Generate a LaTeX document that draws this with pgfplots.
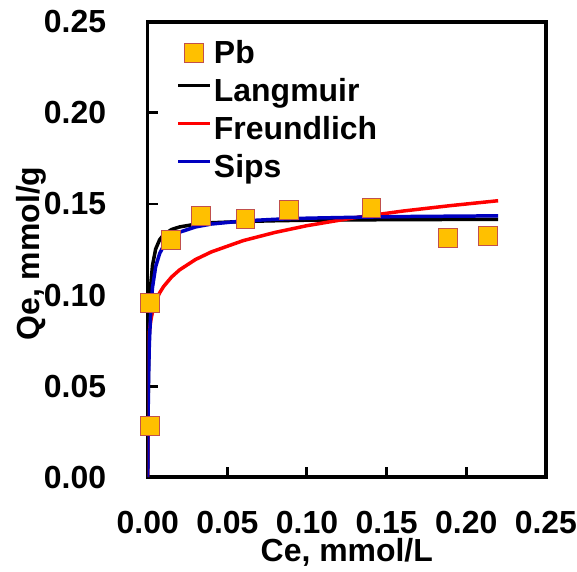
\documentclass[border=0pt]{standalone}
\usepackage{pgfplots}
\pgfplotsset{compat=1.18}
\usepackage{pgfplotstable}
\usepackage{fontspec}
\setmainfont{Liberation Sans}
\newcommand\bigbold{\fontsize{32}{38}\selectfont\bfseries}

\definecolor{pbfill}{HTML}{FFC000}
\definecolor{pbedge}{HTML}{C0504D}
\definecolor{sipsblue}{HTML}{0000C0}

% Measured equilibrium data for Pb
\pgfplotstableread{
Ce      Qe
0.0012  0.0281
0.0012  0.0954
0.0148  0.1300
0.0336  0.1436
0.0614  0.1420
0.0885  0.1469
0.1405  0.1480
0.1884  0.1312
0.2139  0.1325
}\pbdata

% Fitted isotherms, tabulated
\pgfplotstableread{
Ce      Lang    Freu    Sips
0.0000  0.0000  0.0000  0.0000
0.0002  0.0328  0.0655  0.0294
0.0005  0.0609  0.0731  0.0517
0.0010  0.0852  0.0794  0.0725
0.0020  0.1065  0.0863  0.0933
0.0030  0.1162  0.0906  0.1041
0.0050  0.1253  0.0964  0.1156
0.0075  0.1304  0.1012  0.1228
0.0100  0.1331  0.1047  0.1271
0.0150  0.1360  0.1099  0.1318
0.0200  0.1374  0.1138  0.1345
0.0300  0.1389  0.1195  0.1374
0.0400  0.1397  0.1237  0.1390
0.0600  0.1404  0.1299  0.1407
0.0800  0.1408  0.1344  0.1416
0.1000  0.1411  0.1381  0.1422
0.1300  0.1413  0.1425  0.1427
0.1600  0.1414  0.1461  0.1431
0.1900  0.1415  0.1491  0.1433
0.2200  0.1416  0.1518  0.1435
}\fits

\pgfplotsset{
  pblegend/.style={legend image code/.code={%
    \draw[fill=pbfill, draw=pbedge, line width=1pt] (6.5pt,-7pt) rectangle (25.5pt,12pt);}},
  linelegend/.style={legend image code/.code={%
    \draw[#1, line width=3.5pt] (0pt,8pt) -- (32pt,8pt);}},
  tickmark/.style={black, line width=3pt, no marks, forget plot},
}

\begin{document}
\begin{tikzpicture}
\begin{axis}[
  scale only axis,
  width=399pt, height=456pt,
  xmin=0, xmax=0.25, ymin=0, ymax=0.25,
  xtick={0,0.05,...,0.25}, ytick={0,0.05,...,0.25},
  tick pos=left,
  tick style={draw=none},
  axis line style={line width=3.5pt},
  every axis/.append style={line width=3.5pt},
  clip mode=individual,
  /pgf/number format/.cd, fixed, fixed zerofill, precision=2, assume math mode=true,
  /pgfplots/.cd,
  tick label style={font=\bigbold},
  xticklabel style={inner sep=0pt, anchor=north, yshift=-32pt},
  yticklabel style={inner sep=0pt, anchor=east, xshift=-40pt},
  xlabel={Ce, mmol/L},
  ylabel={Qe, mmol/g},
  label style={font=\bigbold, inner sep=0pt},
  xlabel style={at={(axis description cs:0.5,0)}, anchor=center, yshift=-75pt},
  ylabel style={at={(axis description cs:0,0.5)}, anchor=center, yshift=117pt, xshift=-4pt},
  legend style={draw=none, fill=none, font=\bigbold, inner sep=0pt,
    at={(axis description cs:0.068,0.965)}, anchor=north west,
    nodes={inner sep=1pt, text height=23pt, text depth=7pt},
    row sep=6pt, column sep=1pt},
  legend cell align=left,
]
% inward tick marks on the bottom and left sides
\addplot[tickmark] coordinates {(0.05,0) (0.05,0.0055)};
\addplot[tickmark] coordinates {(0.10,0) (0.10,0.0055)};
\addplot[tickmark] coordinates {(0.15,0) (0.15,0.0055)};
\addplot[tickmark] coordinates {(0.20,0) (0.20,0.0055)};
\addplot[tickmark] coordinates {(0,0.05) (0.0063,0.05)};
\addplot[tickmark] coordinates {(0,0.10) (0.0063,0.10)};
\addplot[tickmark] coordinates {(0,0.15) (0.0063,0.15)};
\addplot[tickmark] coordinates {(0,0.20) (0.0063,0.20)};

\addplot[only marks, mark=square*, mark size=9.5pt,
  mark options={fill=pbfill, draw=pbedge, line width=1pt}, pblegend]
  table[x=Ce, y=Qe] {\pbdata};
\addlegendentry{Pb}
\addplot[black, line width=3.5pt, no marks, linelegend=black]
  table[x=Ce, y=Lang] {\fits};
\addlegendentry{Langmuir}
\addplot[red, line width=3.5pt, no marks, linelegend=red]
  table[x=Ce, y=Freu] {\fits};
\addlegendentry{Freundlich}
\addplot[sipsblue, line width=3.5pt, no marks, linelegend=sipsblue]
  table[x=Ce, y=Sips] {\fits};
\addlegendentry{Sips}
% data squares redrawn on top of the fitted curves
\addplot[only marks, mark=square*, mark size=9.5pt,
  mark options={fill=pbfill, draw=pbedge, line width=1pt}, forget plot]
  table[x=Ce, y=Qe] {\pbdata};
\end{axis}
\path (current axis.south west) ++(-148pt,-95pt) rectangle ++(577pt,573pt);
\end{tikzpicture}
\end{document}
